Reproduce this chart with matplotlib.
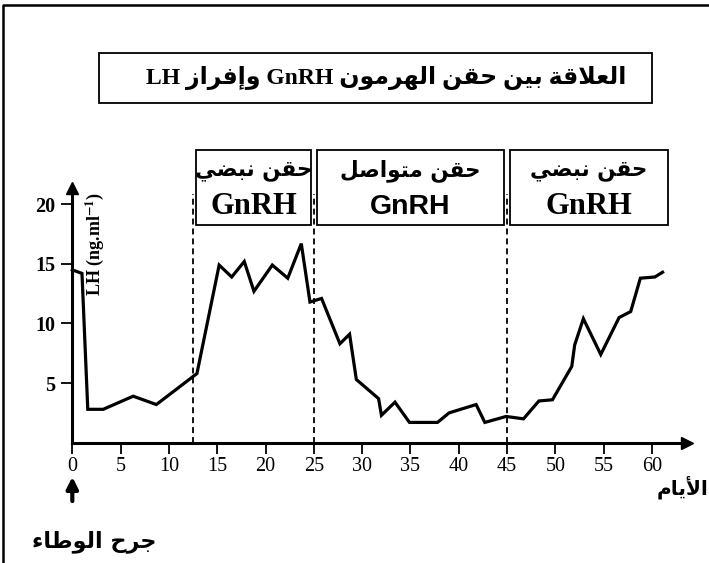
import matplotlib
matplotlib.use("Agg")
from matplotlib import pyplot as plt
from matplotlib.lines import Line2D
from matplotlib.patches import Rectangle
import matplotlib.transforms as mtransforms

plt.rcParams['font.family'] = ['Liberation Serif', 'DejaVu Sans']
plt.rcParams['mathtext.fontset'] = 'stix'

#-----------------------------------------------------------------------------------------
# data

days = [0, 1, 1.6, 3.2, 6.3, 8.7, 12.9, 15.2, 16.5, 17.8, 18.8, 20.7, 22.3, 23.7,
        24.6, 25.8, 27.7, 28.7, 29.4, 31.7, 32.0, 33.4, 34.9, 37.8, 39.0, 41.8,
        42.7, 44.9, 46.7, 48.3, 49.7, 51.7, 52.0, 52.9, 54.7, 56.6, 57.8, 58.8,
        60.3, 61.1]
lh = [14.5, 14.2, 2.8, 2.8, 3.9, 3.2, 5.8, 14.9, 13.9, 15.2, 12.7, 14.9, 13.8, 16.7,
      11.8, 12.1, 8.3, 9.1, 5.3, 3.7, 2.3, 3.4, 1.7, 1.7, 2.5, 3.2,
      1.7, 2.2, 2.0, 3.5, 3.6, 6.4, 8.2, 10.4, 7.4, 10.5, 11.0, 13.8,
      13.9, 14.3]

x_ticks = [0, 5, 10, 15, 20, 25, 30, 35, 40, 45, 50, 55, 60]
y_ticks = [5, 10, 15, 20]

phase_edges = [12.5, 25, 45]
phase_ends = [12.5, 25, 45, 62]
phase_labels = ['حقن نبضي', 'حقن متواصل', 'حقن نبضي']
phase_fonts = ['Liberation Serif', 'Liberation Sans', 'Liberation Serif']

title = 'العلاقة بين حقن الهرمون GnRH وإفراز LH'
x_name = 'الأيام'
event = 'جرح الوطاء'

#-----------------------------------------------------------------------------------------
# matplotlib has no arabic shaping: pick presentation forms by hand, then reverse

FORMS = {'ء': (0xFE80, 1), 'أ': (0xFE83, 2), 'إ': (0xFE87, 2), 'ا': (0xFE8D, 2),
         'ب': (0xFE8F, 4), 'ة': (0xFE93, 2), 'ت': (0xFE95, 4), 'ج': (0xFE9D, 4),
         'ح': (0xFEA1, 4), 'ر': (0xFEAD, 2), 'ز': (0xFEAF, 2), 'ص': (0xFEB9, 4),
         'ض': (0xFEBD, 4), 'ط': (0xFEC1, 4), 'ع': (0xFEC9, 4), 'ف': (0xFED1, 4),
         'ق': (0xFED5, 4), 'ل': (0xFEDD, 4), 'م': (0xFEE1, 4), 'ن': (0xFEE5, 4),
         'ه': (0xFEE9, 4), 'و': (0xFEED, 2), 'ي': (0xFEF1, 4)}
LAM_ALEF = {'ا': 0xFEFB, 'أ': 0xFEF7, 'إ': 0xFEF9}


def shape_word(w):
    out = []
    prev_joins = False
    i = 0
    while i < len(w):
        c = w[i]
        if c == 'ل' and i + 1 < len(w) and w[i + 1] in LAM_ALEF:
            out.append(chr(LAM_ALEF[w[i + 1]] + (1 if prev_joins else 0)))
            prev_joins = False
            i += 2
            continue
        base, n = FORMS[c]
        nxt = i + 1 < len(w) and w[i + 1] in FORMS and FORMS[w[i + 1]][1] > 1
        to_next = n == 4 and nxt
        to_prev = prev_joins and n > 1
        out.append(chr(base + (1 if to_prev else 0) + (2 if to_next else 0)))
        prev_joins = to_next
        i += 1
    return ''.join(reversed(out))


def rtl(text):
    words = text.split(' ')
    return ' '.join(shape_word(w) if w[0] in FORMS else w for w in reversed(words))

#-----------------------------------------------------------------------------------------

fig = plt.figure(figsize=(7.09, 5.63), dpi=100)
ax = fig.add_axes([0.102, 0.2137, 0.8666, 0.4531])

ax.plot(days, lh, color='k', lw=2.3, solid_joinstyle='miter', clip_on=False)
ax.vlines(phase_edges, 0, 20.9, colors='k', lw=1.3, linestyles=(0, (3.3, 2.2)))

ax.set_xlim(0, 63.6)
ax.set_ylim(0, 21.4)
ax.set_xticks(x_ticks)
ax.set_yticks(y_ticks)
ax.tick_params(axis='both', direction='out', length=8, width=1.3, labelsize=14.5)
ax.tick_params(axis='x', pad=2)
ax.tick_params(axis='y', pad=4)
for lab in ax.get_yticklabels():
    lab.set_fontweight('bold')

for s in ['top', 'right']:
    ax.spines[s].set_visible(False)
for s in ['left', 'bottom']:
    ax.spines[s].set_linewidth(2.2)
ax.plot(1, 0, '>k', ms=9, transform=ax.transAxes, clip_on=False)
ax.plot(0, 1, '^k', ms=9, transform=ax.transAxes, clip_on=False)

fig.text(0.134, 0.5666, r'LH (ng.ml$^{\mathbf{-1}}$)', rotation=90, ha='center',
         va='center', fontsize=13, fontweight='bold')

# phase boxes above the curve (x in days, y in figure fraction)
trans = mtransforms.blended_transform_factory(ax.transData, fig.transFigure)
for k in range(3):
    x0, x1 = phase_ends[k] + 0.3, phase_ends[k + 1] - 0.3
    ax.add_patch(Rectangle((x0, 0.6004), x1 - x0, 0.1332, transform=trans,
                           fill=False, ec='k', lw=1.3, clip_on=False))
    xc = (x0 + x1) / 2
    ax.text(xc, 0.697, rtl(phase_labels[k]), transform=trans, ha='center',
            va='center', fontsize=15.5, fontweight='bold', family='DejaVu Sans')
    ax.text(xc, 0.6329, 'GnRH', transform=trans, ha='center', va='center',
            fontsize=22 if k != 1 else 20.5, fontweight='bold', family=phase_fonts[k])

# hypothalamus lesion marker at day 0
ax.annotate('', xy=(0, 0.153), xytext=(0, 0.110), xycoords=trans, textcoords=trans,
            arrowprops=dict(arrowstyle='-|>', color='k', lw=3, mutation_scale=17,
                            shrinkA=0, shrinkB=0))

fig.text(0.999, 0.134, rtl(x_name), ha='right', va='center', fontsize=14.5,
         fontweight='bold', family='DejaVu Sans')
fig.text(0.1333, 0.0378, rtl(event), ha='center', va='center', fontsize=16,
         fontweight='bold', family='DejaVu Sans')

# title box
fig.add_artist(Rectangle((0.140, 0.8165), 0.779, 0.0888, transform=fig.transFigure,
                         fill=False, ec='k', lw=1.3))
fig.text(0.545, 0.861, rtl(title), ha='center', va='center', fontsize=17,
         fontweight='bold')

# outer frame (left and top edges)
fig.add_artist(Line2D([0.0047, 0.0047, 1], [0, 0.991, 0.991], color='k', lw=1.8,
                      transform=fig.transFigure))

fig.savefig('out.png', dpi=100)
